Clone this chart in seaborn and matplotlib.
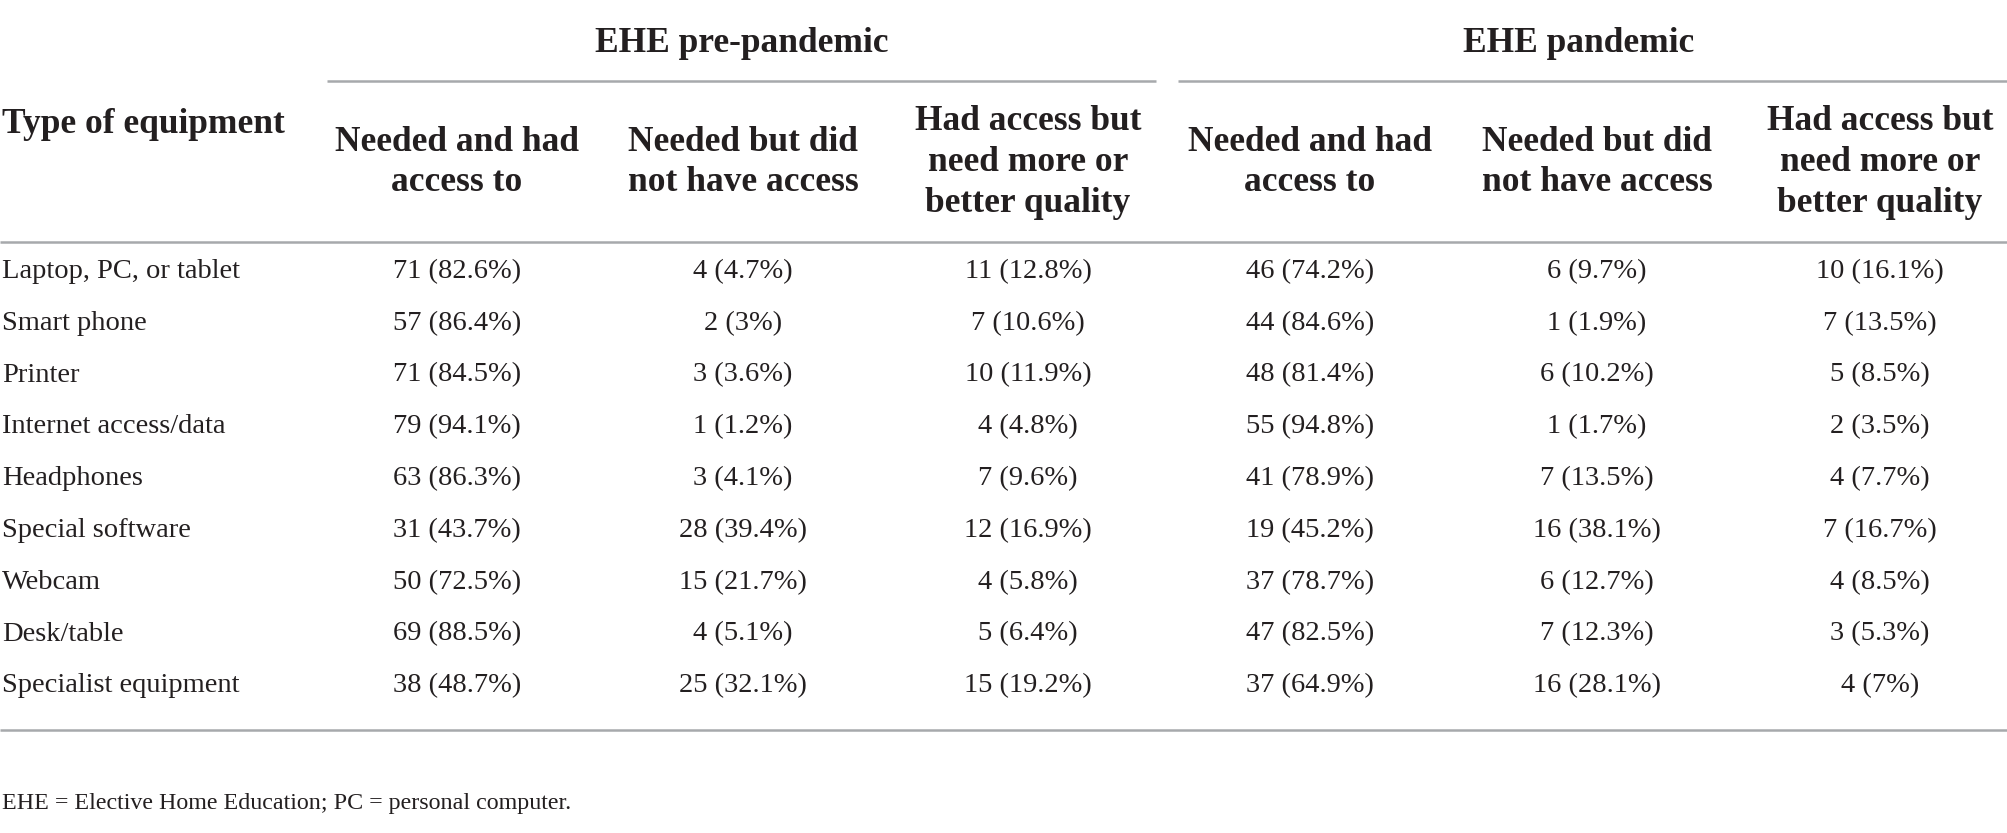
import matplotlib
matplotlib.use("Agg")
import matplotlib.pyplot as plt
import seaborn as sns

# ---------------- data ----------------
equipment = ["Laptop, PC, or tablet", "Smart phone", "Printer", "Internet access/data",
             "Headphones", "Special software", "Webcam", "Desk/table", "Specialist equipment"]

groups = ["EHE pre-pandemic", "EHE pandemic"]
subheaders = ["Needed and had\naccess to", "Needed but did\nnot have access",
              "Had access but\nneed more or\nbetter quality"]

pre_had_n = [71, 57, 71, 79, 63, 31, 50, 69, 38]
pre_had_p = [82.6, 86.4, 84.5, 94.1, 86.3, 43.7, 72.5, 88.5, 48.7]
pre_not_n = [4, 2, 3, 1, 3, 28, 15, 4, 25]
pre_not_p = [4.7, 3, 3.6, 1.2, 4.1, 39.4, 21.7, 5.1, 32.1]
pre_more_n = [11, 7, 10, 4, 7, 12, 4, 5, 15]
pre_more_p = [12.8, 10.6, 11.9, 4.8, 9.6, 16.9, 5.8, 6.4, 19.2]
pan_had_n = [46, 44, 48, 55, 41, 19, 37, 47, 37]
pan_had_p = [74.2, 84.6, 81.4, 94.8, 78.9, 45.2, 78.7, 82.5, 64.9]
pan_not_n = [6, 1, 6, 1, 7, 16, 6, 7, 16]
pan_not_p = [9.7, 1.9, 10.2, 1.7, 13.5, 38.1, 12.7, 12.3, 28.1]
pan_more_n = [10, 7, 5, 2, 4, 7, 4, 3, 4]
pan_more_p = [16.1, 13.5, 8.5, 3.5, 7.7, 16.7, 8.5, 5.3, 7]

footnote = "EHE = Elective Home Education; PC = personal computer."

columns = [(pre_had_n, pre_had_p), (pre_not_n, pre_not_p), (pre_more_n, pre_more_p),
           (pan_had_n, pan_had_p), (pan_not_n, pan_not_p), (pan_more_n, pan_more_p)]

# ---------------- style ----------------
sns.set_theme(style="white")
plt.rcParams["font.family"] = ["Liberation Serif", "DejaVu Serif"]
TXT = "#231f20"
RULE = "#a7a9ac"

W, H = 2008, 833
fig = plt.figure(figsize=(W / 100, H / 100), dpi=100)
ax = fig.add_axes([0, 0, 1, 1])
ax.set_xlim(0, W)
ax.set_ylim(H, 0)
ax.axis("off")

body_fs = 20.5
head_fs = 25.5

col_x = [457, 743, 1028, 1310, 1597, 1880]
group_x = [742, 1579]
group_span = [(327, 1156), (1178, 2008)]
row_y0, row_dy = 271.5, 51.8

# group headers
for gx, g in zip(group_x, groups):
    ax.text(gx, 43.5, g, ha="center", va="center", fontsize=head_fs,
            fontweight="bold", color=TXT)
for x0, x1 in group_span:
    ax.hlines(81, x0, x1, color=RULE, lw=1.8)

# first column header
ax.text(2, 124.5, "Type of equipment", ha="left", va="center", fontsize=head_fs,
        fontweight="bold", color=TXT)

# subheaders
for i, cx in enumerate(col_x):
    ax.text(cx, 162.5, subheaders[i % 3], ha="center", va="center", fontsize=head_fs,
            fontweight="bold", color=TXT, linespacing=1.31)

# rules
ax.hlines(242, 0, W, color=RULE, lw=1.8)
ax.hlines(730, 0, W, color=RULE, lw=1.8)

# body
for r, name in enumerate(equipment):
    y = row_y0 + r * row_dy
    ax.text(2, y, name, ha="left", va="center", fontsize=body_fs, color=TXT)
    for cx, (ns, ps) in zip(col_x, columns):
        ax.text(cx, y, f"{ns[r]} ({ps[r]:g}%)", ha="center", va="center",
                fontsize=body_fs, color=TXT)

ax.text(2, 804, footnote, ha="left", va="center", fontsize=17.3, color=TXT)

fig.savefig("out.png", dpi=100, facecolor="white")
